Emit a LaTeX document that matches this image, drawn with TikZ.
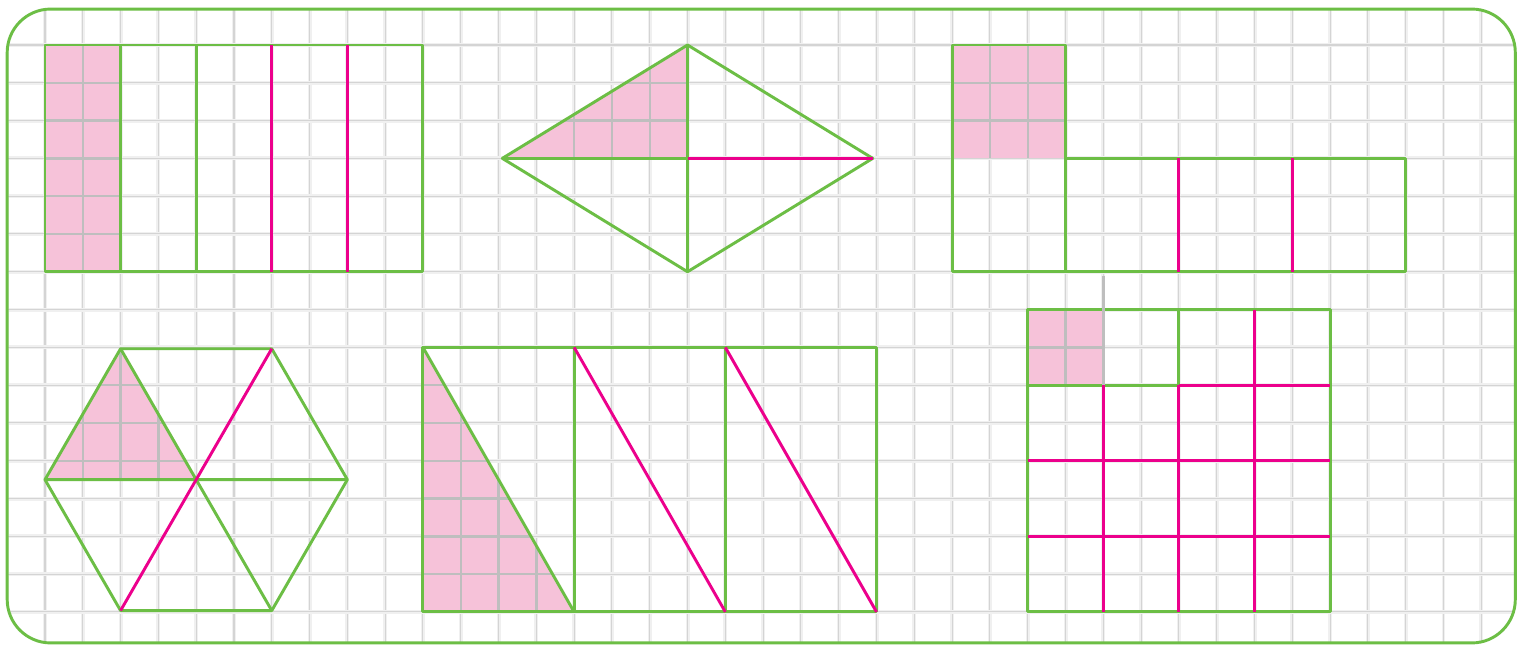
\documentclass[tikz,border=0pt]{standalone}
\usepackage{tikz}
\usetikzlibrary{calc}
\definecolor{xanhla}{RGB}{108,190,69}
\definecolor{hongdam}{RGB}{236,0,140}
\definecolor{hongnhat}{RGB}{246,194,217}
\definecolor{xamluoi}{RGB}{190,190,190}

\begin{document}
\begin{tikzpicture}[x=1cm, y=-1cm, line join=round,
    vien/.style={draw=xanhla, line width=2.2pt},
    chia/.style={draw=hongdam, line width=2.2pt},
    luoi/.style={draw=xamluoi, line width=1.8pt},
    nen/.style={draw=black!6, line width=3pt},
    nenmanh/.style={draw=black!17, line width=0.8pt}]
    \useasboundingbox (-1.19,-1.19) rectangle (39.13,15.85);
    \fill[white] (-1.19,-1.19) rectangle (39.13,15.85);

    % Vẽ lưới ô vuông
    \begin{scope}
        \clip[rounded corners=1.15cm] (-1,-0.95) rectangle (38.9,15.82);
        \foreach \i in {-1,...,39} {
            \draw[nen] (\i,-1.2) -- (\i,16);
            \draw[nenmanh] (\i,-1.2) -- (\i,16);
        }
        \foreach \j in {-1,...,16} {
            \draw[nen] (-1.2,\j) -- (39.2,\j);
            \draw[nenmanh] (-1.2,\j) -- (39.2,\j);
        }
    \end{scope}
    \draw[vien, rounded corners=1.15cm] (-1,-0.95) rectangle (38.9,15.82);

    % Hình 1: hình chữ nhật
    \fill[hongnhat] (0,0) rectangle (2,6);
    \draw[luoi] (1,0) -- (1,6);
    \foreach \j in {1,...,5} \draw[luoi] (0,\j) -- (2,\j);
    \draw[vien] (0,0) rectangle (10,6);
    \draw[vien] (2,0) -- (2,6) (4,0) -- (4,6);
    \draw[chia] (6,0) -- (6,6) (8,0) -- (8,6);

    % Hình 2: hình thoi
    \coordinate (tT) at (12.1,3);
    \coordinate (tTr) at (17,0);
    \coordinate (tP) at (21.9,3);
    \coordinate (tD) at (17,6);
    \coordinate (tO) at (17,3);
    \fill[hongnhat] (tT) -- (tTr) -- (tO) -- cycle;
    \begin{scope}
        \clip (tT) -- (tTr) -- (tO) -- cycle;
        \foreach \i in {14,15,16} \draw[luoi] (\i,0) -- (\i,3);
        \foreach \j in {1,2} \draw[luoi] (12,\j) -- (17,\j);
    \end{scope}
    \draw[vien] (tT) -- (tTr) -- (tP) -- (tD) -- cycle;
    \draw[vien] (tTr) -- (tD) (tT) -- (tO);
    \draw[chia] (tO) -- (tP);

    % Hình 3: hình vuông và hình chữ nhật
    \fill[hongnhat] (24,0) rectangle (27,3);
    \draw[luoi] (25,0) -- (25,3) (26,0) -- (26,3) (24,1) -- (27,1) (24,2) -- (27,2);
    \draw[vien] (24,0) rectangle (27,6);
    \draw[vien] (27,3) rectangle (36,6);
    \draw[chia] (30,3) -- (30,6) (33,3) -- (33,6);

    % Hình 4: hình lục giác
    \coordinate (lT) at (0,11.5);
    \coordinate (lTT) at (2,8.036);
    \coordinate (lPT) at (6,8.036);
    \coordinate (lP) at (8,11.5);
    \coordinate (lPD) at (6,14.964);
    \coordinate (lTD) at (2,14.964);
    \coordinate (lO) at (4,11.5);
    \fill[hongnhat] (lT) -- (lTT) -- (lO) -- cycle;
    \begin{scope}
        \clip (lT) -- (lTT) -- (lO) -- cycle;
        \foreach \i in {1,2,3} \draw[luoi] (\i,8) -- (\i,11.5);
        \foreach \j in {9,10,11} \draw[luoi] (0,\j) -- (4,\j);
    \end{scope}
    \draw[vien] (lT) -- (lTT) -- (lPT) -- (lP) -- (lPD) -- (lTD) -- cycle;
    \draw[vien] (lT) -- (lP) (lTT) -- (lPD);
    \draw[chia] (lTD) -- (lPT);

    % Hình 5: ba hình chữ nhật
    \fill[hongnhat] (10,8) -- (14,15) -- (10,15) -- cycle;
    \begin{scope}
        \clip (10,8) -- (14,15) -- (10,15) -- cycle;
        \foreach \i in {11,12,13} \draw[luoi] (\i,8) -- (\i,15);
        \foreach \j in {9,...,14} \draw[luoi] (10,\j) -- (14,\j);
    \end{scope}
    \draw[vien] (10,8) rectangle (22,15);
    \draw[vien] (14,8) -- (14,15) (18,8) -- (18,15);
    \draw[vien] (10,8) -- (14,15);
    \draw[chia] (14,8) -- (18,15) (18,8) -- (22,15);

    % Hình 6: hình vuông lớn
    \fill[hongnhat] (26,7) rectangle (28,9);
    \draw[luoi] (27,7) -- (27,9) (26,8) -- (28,8);
    \draw[vien] (26,7) rectangle (34,15);
    \draw[vien] (26,9) -- (30,9) -- (30,7);
    \draw[chia] (28,9) -- (28,15) (30,9) -- (30,15) (32,7) -- (32,15);
    \draw[chia] (30,9) -- (34,9) (26,11) -- (34,11) (26,13) -- (34,13);
    \draw[luoi] (28,6.1) -- (28,9);
\end{tikzpicture}
\end{document}
